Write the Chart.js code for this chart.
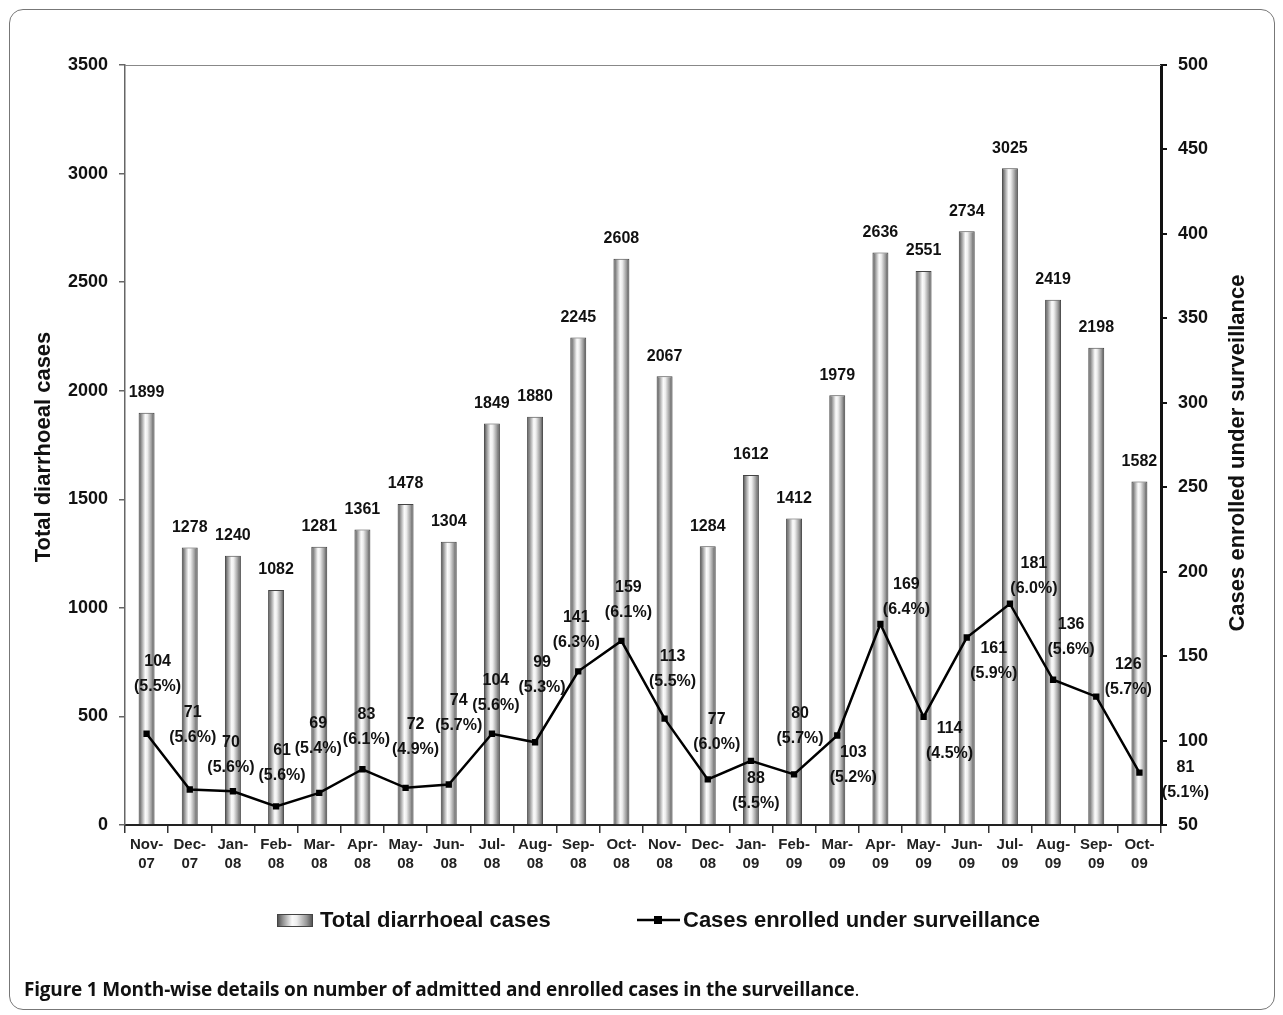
<!DOCTYPE html>
<html>
<head>
<meta charset="utf-8">
<script src="https://cdn.jsdelivr.net/npm/chart.js@4/dist/chart.umd.min.js"></script>
<style>
  html, body { margin: 0; padding: 0; background: #fff; }
  #wrap { position: relative; width: 1283px; height: 1015px; overflow: hidden; }
  #frame {
    position: absolute; left: 9px; top: 9px; width: 1266px; height: 1001px;
    border: 1.5px solid #777; border-radius: 14px; box-sizing: border-box;
  }
  #caption {
    position: absolute; left: 24px; top: 976px;
    font-family: "Open Sans", "Noto Sans", sans-serif; font-size: 19px; font-weight: 700;
    color: #111; letter-spacing: -0.2px;
  }
  #caption .dot { font-weight: 400; }
  canvas { position: absolute; left: 0; top: 0; }
</style>
</head>
<body>
<div id="wrap">
  <div id="frame"></div>
  <canvas id="chart" width="1283" height="1015"></canvas>
  <div id="caption">Figure 1 Month-wise details on number of admitted and enrolled cases in the surveillance<span class="dot">.</span></div>
</div>
<script>
// Month labels (two lines each)
var months = [
    ["Nov-", "07"], ["Dec-", "07"], ["Jan-", "08"], ["Feb-", "08"], ["Mar-", "08"], ["Apr-", "08"],
    ["May-", "08"], ["Jun-", "08"], ["Jul-", "08"], ["Aug-", "08"], ["Sep-", "08"], ["Oct-", "08"],
    ["Nov-", "08"], ["Dec-", "08"], ["Jan-", "09"], ["Feb-", "09"], ["Mar-", "09"], ["Apr-", "09"],
    ["May-", "09"], ["Jun-", "09"], ["Jul-", "09"], ["Aug-", "09"], ["Sep-", "09"], ["Oct-", "09"]
];

// Total diarrhoeal cases (bars, left axis)
var totalCases = [1899, 1278, 1240, 1082, 1281, 1361, 1478, 1304, 1849, 1880, 2245, 2608,
                  2067, 1284, 1612, 1412, 1979, 2636, 2551, 2734, 3025, 2419, 2198, 1582];

// Cases enrolled under surveillance (line, right axis)
var enrolled = [104, 71, 70, 61, 69, 83, 72, 74, 104, 99, 141, 159,
                113, 77, 88, 80, 103, 169, 114, 161, 181, 136, 126, 81];

// Enrolled as percentage of total
var enrolledPct = ["5.5", "5.6", "5.6", "5.6", "5.4", "6.1", "4.9", "5.7", "5.6", "5.3", "6.3", "6.1",
                   "5.5", "6.0", "5.5", "5.7", "5.2", "6.4", "4.5", "5.9", "6.0", "5.6", "5.7", "5.1"];

// Axis tick settings
var leftTicks = { min: 0, max: 3500, step: 500 };
var rightTicks = { min: 50, max: 500, step: 50 };

// Where each line label sits relative to its point (px)
var lineLabelOffsets = [
    [11, -72], [3, -77], [-2, -49], [6, -56], [-1, -69], [4, -55],
    [10, -63], [10, -84], [4, -53], [7, -80], [-2, -54], [7, -53],
    [8, -62], [9, -60], [5, 18], [6, -61], [16, 17], [26, -39],
    [26, 12], [27, 11], [24, -40], [18, -55], [32, -32], [46, -5]
];

var FONT = "'Liberation Sans', Arial, sans-serif";

function barGradient(ctx, l, r) {
    var g = ctx.createLinearGradient(l, 0, r, 0);
    g.addColorStop(0, "#474747");
    g.addColorStop(0.15, "#8c8c8c");
    g.addColorStop(0.42, "#fbfbfb");
    g.addColorStop(0.55, "#eeeeee");
    g.addColorStop(0.82, "#989898");
    g.addColorStop(1, "#4a4a4a");
    return g;
}

var decorPlugin = {
    id: "decor",
    beforeDatasetsDraw: function(chart) {
        var ctx = chart.ctx;
        chart.getDatasetMeta(1).data.forEach(function(el) {
            var l = el.x - el.width / 2, r = el.x + el.width / 2;
            el.options = Object.assign({}, el.options, { backgroundColor: barGradient(ctx, l, r) });
        });
    },
    afterDatasetsDraw: function(chart) {
        var ctx = chart.ctx;
        var area = chart.chartArea;
        ctx.save();

        // top frame line
        ctx.strokeStyle = "#888";
        ctx.lineWidth = 1;
        ctx.beginPath();
        ctx.moveTo(area.left, area.top + 0.5);
        ctx.lineTo(area.right, area.top + 0.5);
        ctx.stroke();

        ctx.fillStyle = "#111";
        ctx.textAlign = "center";
        ctx.textBaseline = "middle";

        // bar values
        ctx.font = "bold 16px " + FONT;
        chart.getDatasetMeta(1).data.forEach(function(el, i) {
            ctx.fillText(totalCases[i], el.x, el.y - 20);
        });

        // line values with percentages
        chart.getDatasetMeta(0).data.forEach(function(pt, i) {
            var o = lineLabelOffsets[i];
            ctx.fillText(enrolled[i], pt.x + o[0], pt.y + o[1]);
            ctx.fillText("(" + enrolledPct[i] + "%)", pt.x + o[0], pt.y + o[1] + 25);
        });

        // axis titles
        ctx.font = "bold 22px " + FONT;
        ctx.save();
        ctx.translate(44, 447);
        ctx.rotate(-Math.PI / 2);
        ctx.fillText("Total diarrhoeal cases", 0, 0);
        ctx.restore();
        ctx.save();
        ctx.translate(1238, 453);
        ctx.rotate(-Math.PI / 2);
        ctx.fillText("Cases enrolled under surveillance", 0, 0);
        ctx.restore();

        // legend
        var ly = 920;
        ctx.fillStyle = barGradient(ctx, 277, 313);
        ctx.fillRect(277, ly - 6, 36, 13);
        ctx.strokeStyle = "#444";
        ctx.lineWidth = 1;
        ctx.strokeRect(277.5, ly - 5.5, 35, 12);
        ctx.fillStyle = "#111";
        ctx.textAlign = "left";
        ctx.fillText("Total diarrhoeal cases", 320, ly + 1);

        ctx.strokeStyle = "#000";
        ctx.lineWidth = 2.5;
        ctx.beginPath();
        ctx.moveTo(637, ly);
        ctx.lineTo(680, ly);
        ctx.stroke();
        ctx.fillStyle = "#000";
        ctx.fillRect(654, ly - 4, 8, 8);
        ctx.fillStyle = "#111";
        ctx.fillText("Cases enrolled under surveillance", 683, ly + 1);

        ctx.restore();
    }
};

var config = {
    data: {
        labels: months,
        datasets: [{
            type: "line",
            label: "Cases enrolled under surveillance",
            data: enrolled,
            yAxisID: "y1",
            order: 0,
            borderColor: "#000",
            borderWidth: 2.5,
            tension: 0,
            pointStyle: "rect",
            pointRadius: 4.5,
            pointBackgroundColor: "#000",
            pointBorderColor: "#000",
            pointBorderWidth: 0
        }, {
            type: "bar",
            label: "Total diarrhoeal cases",
            data: totalCases,
            yAxisID: "y",
            order: 1,
            backgroundColor: "#cccccc",
            borderColor: "#444",
            borderWidth: 1,
            barPercentage: 0.37,
            categoryPercentage: 1
        }]
    },
    options: {
        responsive: false,
        animation: false,
        devicePixelRatio: 1,
        layout: { padding: { top: 65, left: 0, right: 0, bottom: 0 } },
        plugins: {
            legend: { display: false },
            tooltip: { enabled: false },
            title: { display: false }
        },
        scales: {
            x: {
                offset: true,
                grid: { offset: true, drawOnChartArea: false, drawTicks: true, tickLength: 8, color: "#333", lineWidth: 1.5 },
                border: { color: "#222", width: 2 },
                ticks: {
                    color: "#222",
                    font: { family: FONT, size: 15, weight: "bold", lineHeight: 1.3 },
                    padding: 2,
                    maxRotation: 0,
                    autoSkip: false
                },
                afterFit: function(s) { s.height = 190; }
            },
            y: {
                position: "left",
                min: leftTicks.min,
                max: leftTicks.max,
                grid: { drawOnChartArea: false, tickLength: 6, color: "#666", lineWidth: 1.5 },
                border: { color: "#666", width: 1.5 },
                ticks: {
                    stepSize: leftTicks.step,
                    color: "#111",
                    font: { family: FONT, size: 18, weight: "bold" },
                    padding: 11,
                    callback: function(v) { return String(v); }
                },
                afterFit: function(s) { s.width = 125; }
            },
            y1: {
                position: "right",
                min: rightTicks.min,
                max: rightTicks.max,
                grid: { drawOnChartArea: false, tickLength: 6, color: "#111", lineWidth: 2 },
                border: { color: "#111", width: 3 },
                ticks: {
                    stepSize: rightTicks.step,
                    color: "#111",
                    font: { family: FONT, size: 18, weight: "bold" },
                    padding: 11,
                    callback: function(v) { return String(v); }
                },
                afterFit: function(s) { s.width = 122; }
            }
        }
    },
    plugins: [decorPlugin]
};

new Chart(document.getElementById("chart").getContext("2d"), config);
</script>
</body>
</html>
